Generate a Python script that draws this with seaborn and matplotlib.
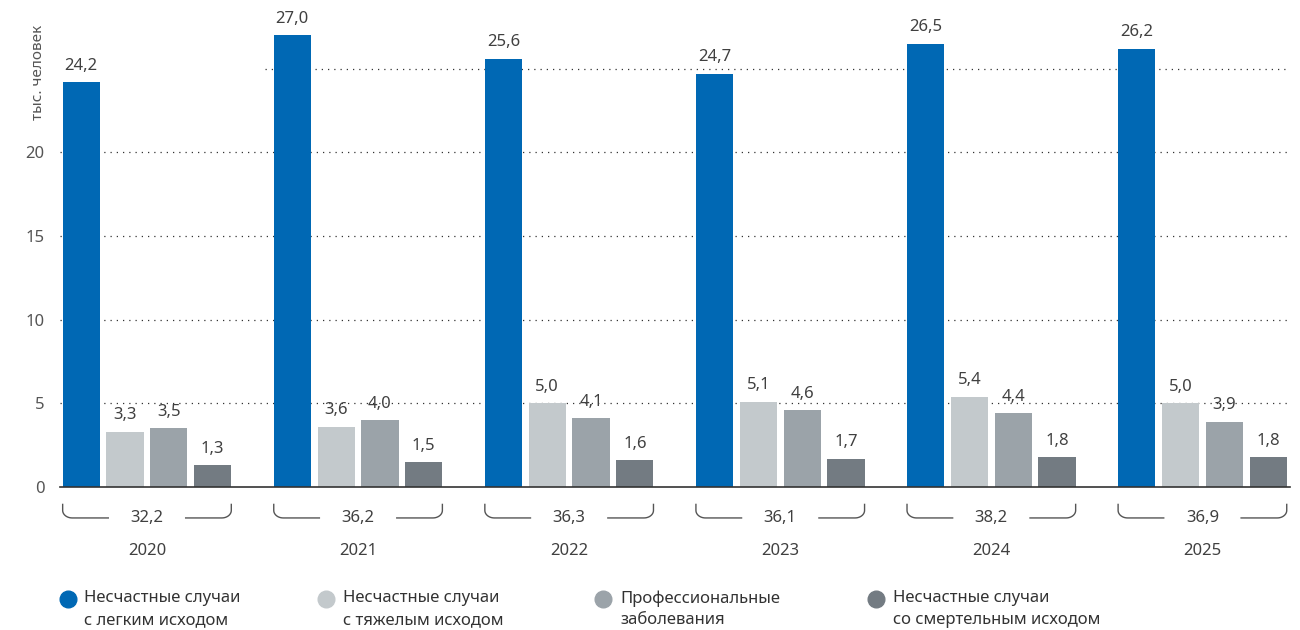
"""Несчастные случаи и профзаболевания по годам."""

import matplotlib.pyplot as plt
import numpy as np
import pandas as pd
import seaborn as sns
from matplotlib.lines import Line2D

years = ["2020", "2021", "2022", "2023", "2024", "2025"]
light = [24.2, 27.0, 25.6, 24.7, 26.5, 26.2]
severe = [3.3, 3.6, 5.0, 5.1, 5.4, 5.0]
occupational = [3.5, 4.0, 4.1, 4.6, 4.4, 3.9]
fatal = [1.3, 1.5, 1.6, 1.7, 1.8, 1.8]
totals = [32.2, 36.2, 36.3, 36.1, 38.2, 36.9]

series_names = [
    "Несчастные случаи\nс легким исходом",
    "Несчастные случаи\nс тяжелым исходом",
    "Профессиональные\nзаболевания",
    "Несчастные случаи\nсо смертельным исходом",
]
colors = ["#0068B4", "#C3C9CC", "#9BA3A9", "#737B82"]
y_ticks = [0, 5, 10, 15, 20]

TEXT = "#404040"


def fmt(v):
    return f"{v:.1f}".replace(".", ",")


df = pd.DataFrame({
    "year": years * 4,
    "value": light + severe + occupational + fatal,
    "series": np.repeat(series_names, len(years)),
})

sns.set_theme(style="white")
plt.rcParams["font.family"] = ["Noto Sans", "DejaVu Sans"]

fig = plt.figure(figsize=(13, 6.3), dpi=100)
ax = fig.add_axes([0.046, 0.227, 0.946, 0.757])

sns.barplot(
    data=df, x="year", y="value", hue="series", hue_order=series_names,
    palette=colors, width=0.83, gap=0.15, ax=ax, legend=False,
    saturation=1, linewidth=0, zorder=3,
)

ax.set_xlim(-0.413, 5.413)
ax.set_ylim(0, 28.5)
ax.set_yticks(y_ticks)
ax.set_yticklabels([str(t) for t in y_ticks], color="#555555", fontsize=12)
ax.tick_params(axis="y", length=0, pad=11)
ax.set_xticks([])
ax.set_xlabel("")
ax.set_ylabel("тыс. человек", color="#555555", fontsize=11)
ax.yaxis.set_label_coords(-0.011, 0.87)
for s in ["top", "right", "left"]:
    ax.spines[s].set_visible(False)
ax.spines["bottom"].set_color("#333333")
ax.spines["bottom"].set_linewidth(1.2)
ax.spines["bottom"].set_zorder(4)

for t in y_ticks[1:]:
    ax.axhline(t, color="#333333", lw=0.9, ls=(0, (1, 4)), zorder=1)
ax.hlines(25, 0.56, 5.413, color="#333333", lw=0.9, ls=(0, (1, 4)), zorder=1)

for cont in ax.containers:
    for bar in cont:
        h = bar.get_height()
        ax.annotate(fmt(h), (bar.get_x() + bar.get_width() / 2, h),
                    xytext=(0, 6), textcoords="offset points",
                    ha="center", va="bottom", fontsize=12, color=TEXT)

# brackets with totals and year labels
first, last = ax.containers[0], ax.containers[-1]
r = 0.045
for i, year in enumerate(years):
    x0 = first[i].get_x()
    x1 = last[i].get_x() + last[i].get_width()
    xc = (x0 + x1) / 2
    ytop, ybot = -1.0, -1.85
    ry = 0.45
    th = np.linspace(np.pi, 1.5 * np.pi, 12)
    lx = np.concatenate([[x0], x0 + r + r * np.cos(th), [xc - 0.18]])
    ly = np.concatenate([[ytop], ybot + ry + ry * np.sin(th), [ybot]])
    ax.plot(lx, ly, color="#555555", lw=1, clip_on=False, solid_capstyle="butt")
    ax.plot(2 * xc - lx, ly, color="#555555", lw=1, clip_on=False,
            solid_capstyle="butt")
    ax.text(xc, ybot, fmt(totals[i]), ha="center", va="center",
            fontsize=12, color=TEXT, clip_on=False)
    ax.text(xc, -3.8, year, ha="center", va="center",
            fontsize=12, color=TEXT, clip_on=False)

# legend
leg_x = [0.052, 0.251, 0.464, 0.674]
for x, name, c in zip(leg_x, series_names, colors):
    fig.add_artist(Line2D([x], [0.049], marker="o", markersize=12,
                          color=c, linestyle="none",
                          transform=fig.transFigure))
    fig.text(x + 0.013, 0.063, name, ha="left", va="top",
             fontsize=12, color="#333333", linespacing=1.45)

fig.savefig("out.png", dpi=100)
